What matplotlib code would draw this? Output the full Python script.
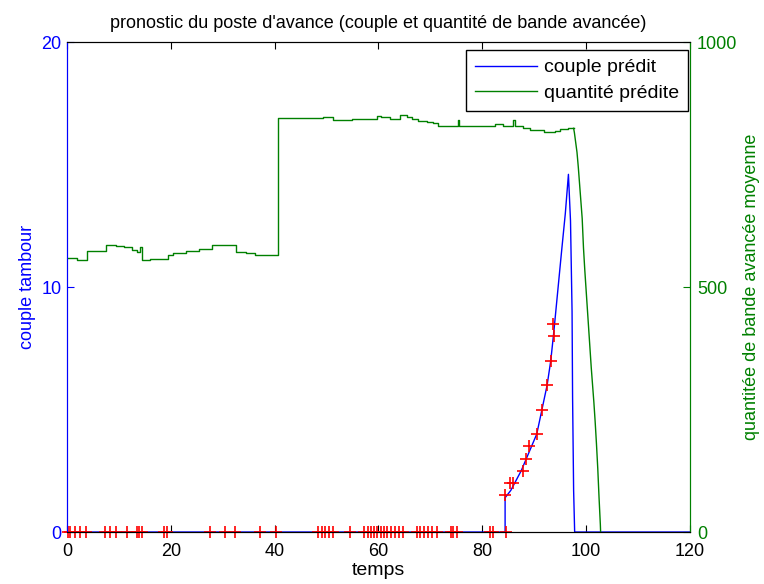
import matplotlib
matplotlib.use('Agg')
from matplotlib import pyplot as plt

plt.rcParams['font.family'] = ['Liberation Sans', 'DejaVu Sans']

# couple predit (blue), left axis
t_couple = [0, 84.4, 84.4, 85.5, 86.5, 87.5, 88.5, 89.5, 90.5, 91.5, 92.5,
            93.2, 93.8, 94.3, 95.3, 96.0, 96.6, 97.0, 97.3, 97.4, 97.6, 97.8, 120]
couple = [0, 0, 1.4, 1.7, 2.1, 2.5, 3.0, 3.5, 4.0, 5.0, 6.0,
          7.0, 8.2, 9.3, 11.5, 13.0, 14.6, 12.7, 9.0, 5.5, 1.7, 0, 0]

# mesures (red +)
t_mes = [0.25, 0.6, 1.5, 2.5, 3.6, 7.4, 8.3, 9.4, 11.6, 13.5, 13.9, 14.4,
         18.6, 19.2, 27.5, 30.4, 32.4, 37.2, 40.3, 48.4, 49.1, 49.7, 50.5,
         51.3, 54.5, 57.2, 57.9, 58.5, 59.2, 59.8, 60.5, 61.1, 61.7, 62.4,
         63.2, 64.0, 64.7, 67.4, 68.0, 68.8, 69.6, 70.4, 71.2, 73.9, 74.4,
         75.1, 81.4, 82.0, 84.5,
         84.4, 85.4, 86.0, 87.9, 88.4, 89.1, 90.6, 91.5, 92.5, 93.2, 93.8, 93.7]
mes = [0] * 49 + [1.5, 2.0, 2.0, 2.5, 3.0, 3.5, 4.0, 5.0, 6.0, 7.0, 8.0, 8.5]

# quantite predite (green), right axis: plateau (steps) then fall
t_quant = [0, 1.9, 3.8, 7.5, 9.5, 11.0, 12.5, 13.5, 14.0, 14.4, 16.0, 19.5,
           20.5, 23.0, 25.5, 27.9, 32.6, 34.5, 36.2, 40.7, 49.4, 51.3, 55.0,
           59.7, 60.5, 62.2, 64.2, 65.5, 66.5, 67.7, 69.3, 70.5, 71.5, 75.4,
           75.6, 82.5, 84.0, 86.0, 86.3, 87.9, 89.2, 91.8, 94.0, 95.0, 96.5,
           97.6]
quant = [560, 556, 574, 586, 584, 582, 576, 572, 582, 556, 558, 566,
         570, 574, 578, 586, 571, 569, 565, 844, 847, 841, 842,
         850, 848, 842, 851, 848, 843, 839, 836, 834, 829, 840,
         829, 833, 829, 840, 829, 824, 820, 816, 818, 822, 824,
         824]
t_chute = [97.6, 97.75, 98.0, 98.25, 98.5, 98.75, 99.0, 99.25, 99.5, 99.75,
           100.0, 100.25, 100.5, 100.75, 101.0, 101.25, 101.5, 101.75,
           102.0, 102.25, 102.5, 102.75, 102.8]
chute = [824, 815, 795, 775, 745, 710, 675, 640, 580, 535,
         495, 455, 415, 375, 335, 300, 265, 225,
         180, 130, 70, 15, 0]

blue = '#0000ff'
green = '#008000'
fs = 13

fig = plt.figure(figsize=(7.64, 5.84), dpi=100)
ax1 = fig.add_axes([0.0877, 0.089, 0.8153, 0.839])
ax2 = ax1.twinx()

l1, = ax1.plot(t_couple, couple, color=blue, lw=1, label='couple prédit')
ax1.plot(t_mes, mes, 'r+', markersize=9, markeredgewidth=1.2, clip_on=False,
         zorder=5)
l2, = ax2.plot(t_quant, quant, color=green, lw=1, drawstyle='steps-post',
               label='quantité prédite')
ax2.plot(t_chute, chute, color=green, lw=1)

ax1.set_xlim(0, 120)
ax1.set_ylim(0, 20)
ax2.set_ylim(0, 1000)
ax1.set_xticks(range(0, 121, 20))
ax1.set_yticks([0, 10, 20])
ax2.set_yticks([0, 500, 1000])

ax1.tick_params(axis='x', direction='in', top=True, length=5, labelsize=fs,
                pad=8)
ax1.tick_params(axis='y', direction='in', colors=blue, length=5, labelsize=fs,
                pad=4)
ax2.tick_params(axis='y', direction='in', colors=green, length=5,
                labelsize=fs, pad=5)
ax1.spines['left'].set_color(blue)
ax2.spines['left'].set_color(blue)
ax2.spines['right'].set_color(green)
ax1.spines['right'].set_color(green)

ax1.set_xlabel('temps', fontsize=fs + 1, labelpad=1)
ax1.set_ylabel('couple tambour', color=blue, fontsize=fs, labelpad=4)
ax2.set_ylabel('quantitée de bande avancée moyenne', color=green,
               fontsize=fs, labelpad=4)
ax1.set_title("pronostic du poste d'avance (couple et quantité de bande avancée)",
              fontsize=fs, pad=10)

leg = ax2.legend(handles=[l1, l2], loc='upper right',
                 bbox_to_anchor=(1 - 2 / 623, 1 - 8 / 490), borderaxespad=0,
                 fontsize=14, fancybox=False, edgecolor='black', framealpha=1,
                 handlelength=3.2, borderpad=0.45, labelspacing=0.4,
                 handletextpad=0.35)
leg.get_frame().set_linewidth(1)

fig.savefig('out.png', dpi=100)
